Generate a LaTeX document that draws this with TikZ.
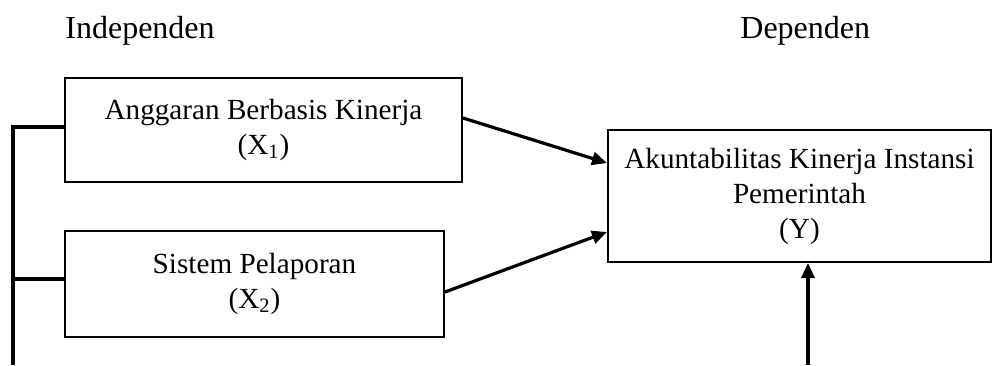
\documentclass[tikz,border=0pt]{standalone}
\usepackage{fontspec}
\setmainfont{Liberation Serif}
\usetikzlibrary{arrows.meta}
\tikzset{
  varbox/.style={draw, line width=1pt, align=center, inner sep=0pt,
    font=\fontsize{14.6}{17.5}\selectfont},
  conn/.style={line width=1.6pt},
  arr/.style={line width=1.6pt, -{Triangle[length=7.5pt,width=6.5pt]}},
  lbl/.style={inner sep=0pt, font=\fontsize{16}{19}\selectfont}
}
\begin{document}
\begin{tikzpicture}[x=0.5pt,y=-0.5pt]
\useasboundingbox (0,0) rectangle (993,365);
\node[lbl, anchor=base west] (ind) at (65,38) {Independen};
\node[lbl, anchor=base west] (dep) at (740,38) {Dependen};
\node[varbox, minimum width=198.5pt, minimum height=52pt] (x1) at (263.5,130)
  {Anggaran Berbasis Kinerja\\(X\textsubscript{1})};
\node[varbox, minimum width=189.5pt, minimum height=53pt] (x2) at (254.5,284)
  {Sistem Pelaporan\\(X\textsubscript{2})};
\node[varbox, minimum width=191.5pt, minimum height=66pt] (y) at (799.5,196)
  {Akuntabilitas Kinerja Instansi\\Pemerintah\\(Y)};
\draw[arr] ([yshift=6pt]x1.east) -- ([yshift=16.5pt]y.west);
\draw[arr] ([yshift=-4pt]x2.east) -- ([yshift=-18pt]y.west);
\coordinate (bot) at (808,365);
\draw[arr] (bot) -- (bot |- y.south);
\coordinate (lb) at (13,365);
\draw[conn] (lb) |- ([yshift=1.5pt]x1.west);
\draw[conn] ([yshift=2.5pt]x2.west) -- ([yshift=2.5pt]x2.west -| lb);
\end{tikzpicture}
\end{document}
